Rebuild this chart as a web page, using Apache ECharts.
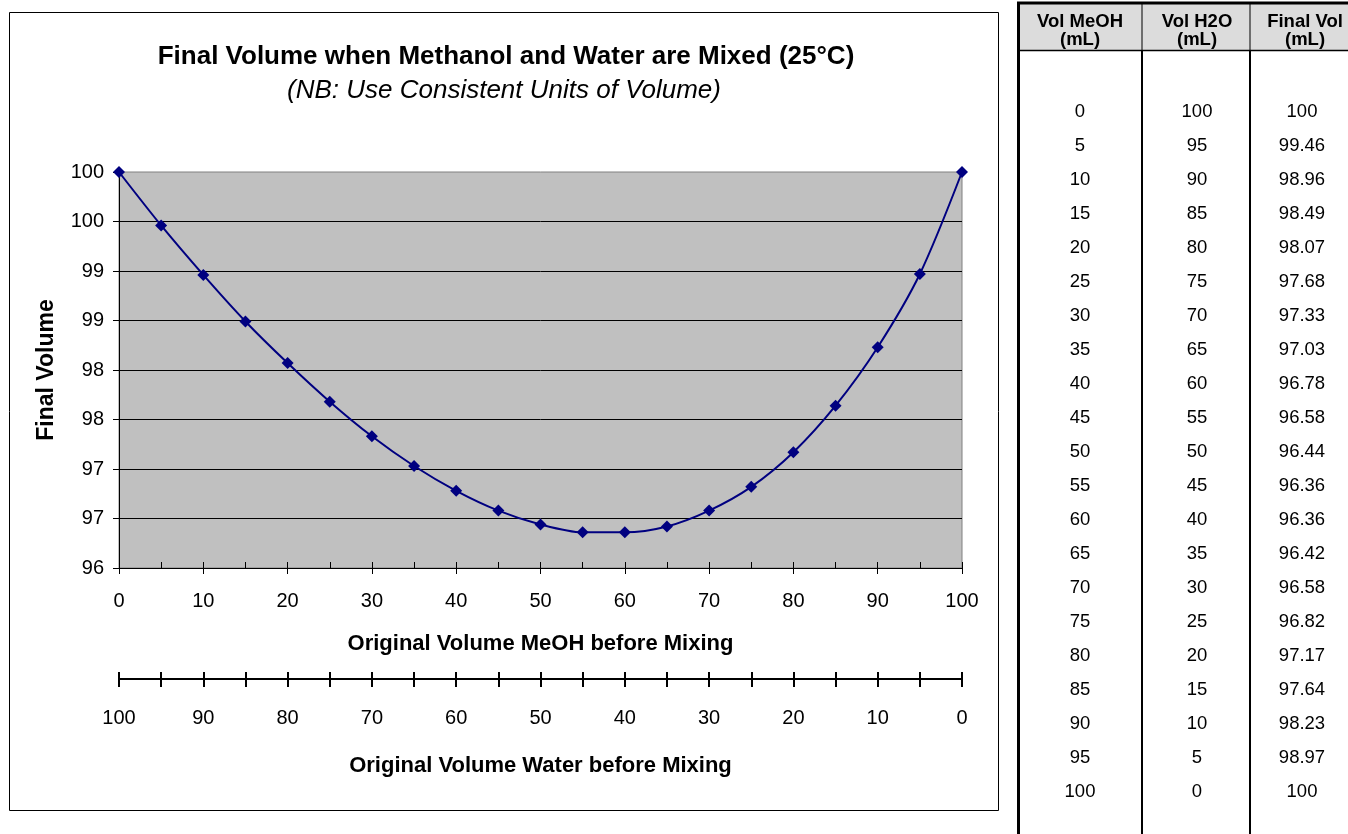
<!DOCTYPE html>
<html>
<head>
<meta charset="utf-8">
<script src="https://cdn.jsdelivr.net/npm/echarts@6/dist/echarts.min.js"></script>
<style>
  html, body { margin: 0; padding: 0; background: #ffffff; }
  #chart { width: 1348px; height: 834px; }
</style>
</head>
<body>
<div id="chart"></div>
<script>
// Mixing data (25 °C): starting volumes and resulting total volume, all in mL
const volMeOH = [0, 5, 10, 15, 20, 25, 30, 35, 40, 45, 50, 55, 60, 65, 70, 75, 80, 85, 90, 95, 100];
const volWater = [100, 95, 90, 85, 80, 75, 70, 65, 60, 55, 50, 45, 40, 35, 30, 25, 20, 15, 10, 5, 0];
const finalVol = [100, 99.46, 98.96, 98.49, 98.07, 97.68, 97.33, 97.03, 96.78, 96.58, 96.44,
                  96.36, 96.36, 96.42, 96.58, 96.82, 97.17, 97.64, 98.23, 98.97, 100];

const tableHeaders = [['Vol MeOH', '(mL)'], ['Vol H2O', '(mL)'], ['Final Vol', '(mL)']];

const titleText = 'Final Volume when Methanol and Water are Mixed (25°C)';
const subtitleText = '(NB: Use Consistent Units of Volume)';
const xNameMeOH = 'Original Volume MeOH before Mixing';
const xNameWater = 'Original Volume Water before Mixing';
const yName = 'Final Volume';

const FONT = '"Liberation Sans", Arial, Helvetica, sans-serif';
const NAVY = '#000080';

const chart = echarts.init(document.getElementById('chart'), null, { renderer: 'canvas' });

// ---- side table (drawn with graphic elements) ----
const tableLeft = 1019, tableRight = 1348;
const colSeps = [1142, 1250];
const colCenters = [1080, 1197, 1302];
const rowY0 = 111.5, rowPitch = 34;

const tableGraphics = [];
tableGraphics.push({
  type: 'rect', z: 1,
  shape: { x: tableLeft, y: 3, width: tableRight - tableLeft, height: 47 },
  style: { fill: '#dcdcdc' }
});
// borders
tableGraphics.push({ type: 'line', z: 5, shape: { x1: 1017, y1: 3, x2: tableRight, y2: 3 }, style: { stroke: '#000', lineWidth: 3 } });
tableGraphics.push({ type: 'line', z: 5, shape: { x1: 1018.5, y1: 2, x2: 1018.5, y2: 834 }, style: { stroke: '#000', lineWidth: 3 } });
tableGraphics.push({ type: 'line', z: 5, shape: { x1: 1017, y1: 50.5, x2: tableRight, y2: 50.5 }, style: { stroke: '#000', lineWidth: 1.5 } });
colSeps.forEach(function (x) {
  tableGraphics.push({ type: 'line', z: 5, shape: { x1: x, y1: 3, x2: x, y2: 50 }, style: { stroke: '#000', lineWidth: 1 } });
  tableGraphics.push({ type: 'line', z: 5, shape: { x1: x, y1: 50, x2: x, y2: 834 }, style: { stroke: '#000', lineWidth: 2 } });
});
// header text
tableHeaders.forEach(function (lines, c) {
  lines.forEach(function (t, k) {
    tableGraphics.push({
      type: 'text', z: 6,
      style: {
        x: colCenters[c] + (c === 2 ? 3 : 0), y: 22 + k * 18, text: t,
        font: 'bold 18.5px ' + FONT, fill: '#000', align: 'center', verticalAlign: 'middle'
      }
    });
  });
});
// body text
const columns = [volMeOH, volWater, finalVol];
columns.forEach(function (col, c) {
  col.forEach(function (v, r) {
    tableGraphics.push({
      type: 'text', z: 6,
      style: {
        x: colCenters[c], y: rowY0 + r * rowPitch, text: String(v),
        font: '18.5px ' + FONT, fill: '#000', align: 'center', verticalAlign: 'middle'
      }
    });
  });
});

// ---- chart frame, titles, y-axis name ----
const chartGraphics = [
  {
    type: 'rect', z: -10, silent: true,
    shape: { x: 9.5, y: 12.5, width: 989, height: 798 },
    style: { fill: '#ffffff', stroke: '#000000', lineWidth: 1 }
  },
  {
    type: 'text', z: 5,
    style: { x: 506, y: 57, text: titleText, font: 'bold 26px ' + FONT, fill: '#000', align: 'center', verticalAlign: 'middle' }
  },
  {
    type: 'text', z: 5,
    style: { x: 504, y: 91, text: subtitleText, font: 'italic 26px ' + FONT, fill: '#000', align: 'center', verticalAlign: 'middle' }
  },
  {
    type: 'text', z: 5, x: 47, y: 370, rotation: Math.PI / 2,
    style: { x: 0, y: 0, text: yName, font: 'bold 23px ' + FONT, fill: '#000', align: 'center', verticalAlign: 'middle' }
  }
];

const axisFontBase = { color: '#000', fontFamily: FONT, fontSize: 20 };
const blackLine = { color: '#000', width: 1 };
const axisNameStyle = { color: '#000', fontFamily: FONT, fontSize: 22, fontWeight: 'bold' };

const option = {
  animation: false,
  backgroundColor: '#ffffff',
  grid: {
    left: 119, top: 172, width: 843, height: 396,
    show: true, backgroundColor: '#C0C0C0', borderColor: '#808080', borderWidth: 1
  },
  xAxis: [
    {
      // MeOH axis: labelled every 10, crossing ticks
      type: 'value', position: 'bottom', min: 0, max: 100, interval: 10,
      axisLine: { show: true, onZero: false, lineStyle: blackLine },
      axisTick: { show: true, inside: false, length: 6, lineStyle: blackLine },
      axisLabel: Object.assign({ margin: 23 }, axisFontBase),
      splitLine: { show: false },
      name: xNameMeOH, nameLocation: 'middle', nameGap: 65,
      nameTextStyle: axisNameStyle
    },
    {
      // MeOH axis: inner ticks every 5
      type: 'value', position: 'bottom', min: 0, max: 100, interval: 5,
      axisLine: { show: false, onZero: false },
      axisTick: { show: true, inside: true, length: 6, lineStyle: blackLine },
      axisLabel: { show: false },
      splitLine: { show: false }
    },
    {
      // Water axis (reversed), outer ticks every 5
      type: 'value', position: 'bottom', offset: 111, inverse: true, min: 0, max: 100, interval: 5,
      axisLine: { show: true, onZero: false, lineStyle: { color: '#000', width: 2 } },
      axisTick: { show: true, inside: false, length: 8, lineStyle: { color: '#000', width: 2 } },
      axisLabel: Object.assign({
        margin: 29,
        formatter: function (v) { return v % 10 === 0 ? String(v) : ''; }
      }, axisFontBase),
      splitLine: { show: false },
      name: xNameWater, nameLocation: 'middle', nameGap: 76,
      nameTextStyle: axisNameStyle
    },
    {
      // Water axis: inner ticks every 5
      type: 'value', position: 'bottom', offset: 111, inverse: true, min: 0, max: 100, interval: 5,
      axisLine: { show: false, onZero: false },
      axisTick: { show: true, inside: true, length: 7, lineStyle: { color: '#000', width: 2 } },
      axisLabel: { show: false },
      splitLine: { show: false }
    }
  ],
  yAxis: {
    type: 'value', min: 96, max: 100, interval: 0.5,
    axisLine: { show: true, onZero: false, lineStyle: blackLine },
    axisTick: { show: true, inside: false, length: 6, lineStyle: blackLine },
    axisLabel: Object.assign({
      margin: 15,
      formatter: function (v) { return String(Math.round(v)); }
    }, axisFontBase),
    splitLine: { show: true, showMaxLine: false, showMinLine: false, lineStyle: blackLine }
  },
  series: [
    {
      type: 'line', xAxisIndex: 0, yAxisIndex: 0,
      data: volMeOH.map(function (x, i) { return [x, finalVol[i]]; }),
      smooth: 0.3,
      clip: false,
      symbol: 'diamond', symbolSize: 12,
      itemStyle: { color: NAVY },
      lineStyle: { color: NAVY, width: 2 },
      z: 10
    }
  ],
  graphic: chartGraphics.concat(tableGraphics)
};

chart.setOption(option);
</script>
</body>
</html>
